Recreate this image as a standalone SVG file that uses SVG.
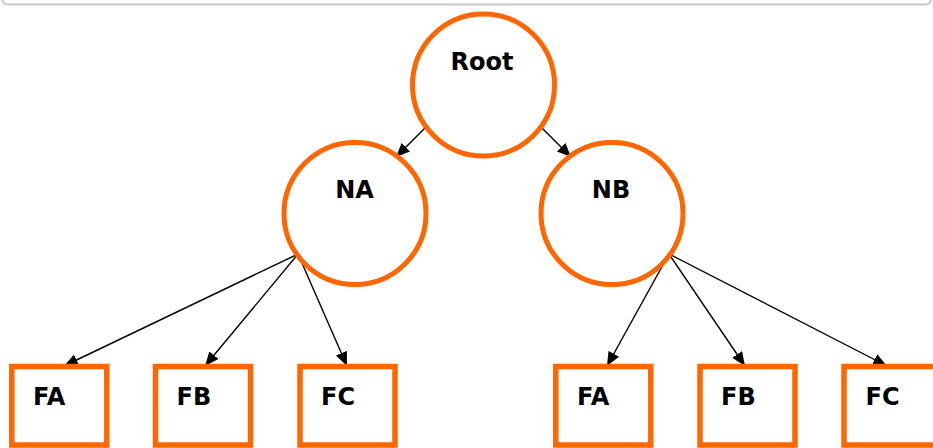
<svg xmlns="http://www.w3.org/2000/svg" width="933" height="448" viewBox="0 0 933 448">
<style>
.frame{fill:none;stroke:#c8c8c8;stroke-width:2}
.circ{fill:#fff;stroke:#ff6600;stroke-width:5}
.box{fill:#fff;stroke:#ff6600;stroke-width:5.5}
.lbl{font-family:"DejaVu Sans",Verdana,sans-serif;font-weight:bold;font-size:24px;fill:#000}
.mid{text-anchor:middle}
.edge{stroke:#000;stroke-width:1.4;fill:none;marker-end:url(#arr)}
</style>
<defs>
<marker id="arr" markerUnits="userSpaceOnUse" markerWidth="15" markerHeight="13" refX="14" refY="6" orient="auto">
<path d="M0,0 L14,6 L0,12 z" fill="#000"/>
</marker>
</defs>
<path class="frame" d="M2.5,0 Q3,4.5 8,4.5 L925,4.5 Q930.5,4.5 931,0"/>
<g id="connectors">
<line class="edge" x1="427" y1="126" x2="396" y2="157"/>
<line class="edge" x1="540" y1="126" x2="571" y2="157"/>
<line class="edge" x1="298" y1="254" x2="64" y2="366"/>
<line class="edge" x1="298" y1="254" x2="205" y2="366"/>
<line class="edge" x1="298" y1="254" x2="347" y2="366"/>
<line class="edge" x1="669" y1="254" x2="607" y2="366"/>
<line class="edge" x1="669" y1="254" x2="745" y2="366"/>
<line class="edge" x1="669" y1="254" x2="887" y2="366"/>
</g>
<g id="root"><circle class="circ" cx="483.5" cy="85" r="71"/><text class="lbl mid" x="482" y="69.5">Root</text></g>
<g id="na"><circle class="circ" cx="355" cy="213.5" r="71"/><text class="lbl mid" x="354.5" y="198">NA</text></g>
<g id="nb"><circle class="circ" cx="612" cy="213.5" r="71"/><text class="lbl mid" x="611" y="198">NB</text></g>
<g id="na-fa"><rect class="box" x="11.8" y="366.5" width="95" height="78.5"/><text class="lbl" x="33" y="405">FA</text></g>
<g id="na-fb"><rect class="box" x="155.5" y="366.5" width="95" height="78.5"/><text class="lbl" x="176.5" y="405">FB</text></g>
<g id="na-fc"><rect class="box" x="300" y="366.5" width="95" height="78.5"/><text class="lbl" x="321" y="405">FC</text></g>
<g id="nb-fa"><rect class="box" x="555.8" y="366.5" width="95" height="78.5"/><text class="lbl" x="577" y="405">FA</text></g>
<g id="nb-fb"><rect class="box" x="700" y="366.5" width="95" height="78.5"/><text class="lbl" x="721" y="405">FB</text></g>
<g id="nb-fc"><rect class="box" x="844" y="366.5" width="95" height="78.5"/><text class="lbl" x="865.5" y="405">FC</text></g>
</svg>
